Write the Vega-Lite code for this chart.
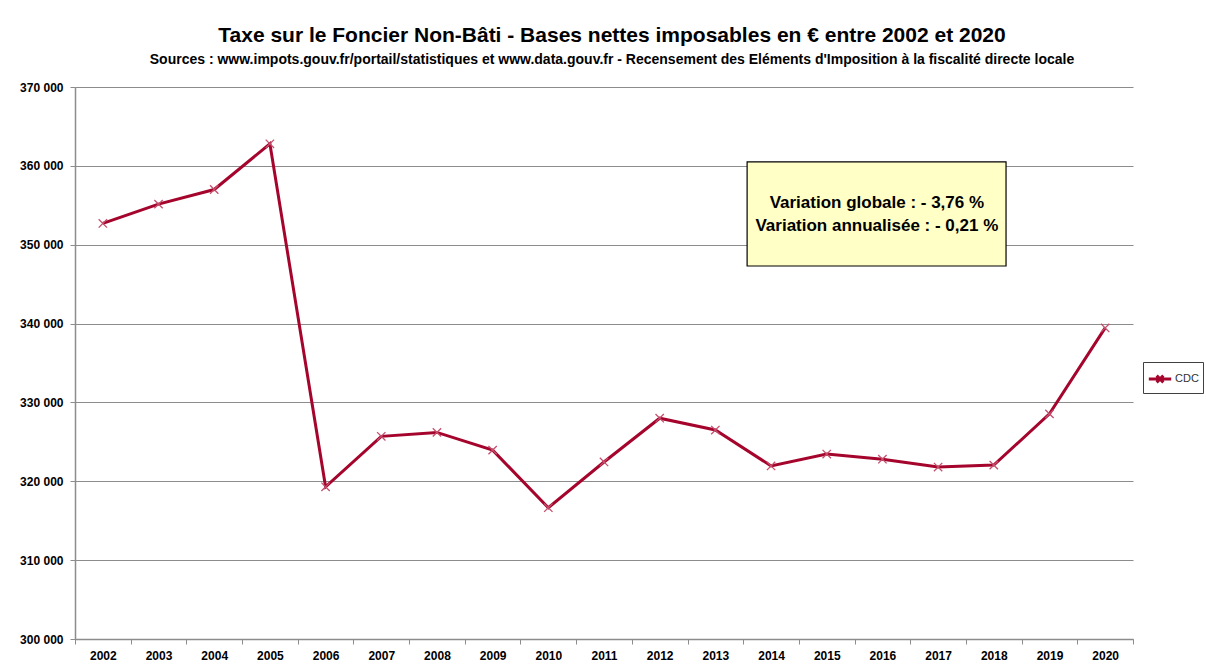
{
  "$schema": "https://vega.github.io/schema/vega-lite/v6.json",
  "width": 1058,
  "height": 552,
  "autosize": {"type": "none"},
  "padding": {"left": 75, "top": 87, "right": 73, "bottom": 31},
  "background": "white",
  "title": {
    "text": "Taxe sur le Foncier Non-Bâti - Bases nettes imposables en € entre 2002 et 2020",
    "subtitle": "Sources : www.impots.gouv.fr/portail/statistiques et www.data.gouv.fr - Recensement des Eléments d'Imposition à la fiscalité directe locale",
    "anchor": "middle",
    "dx": 8,
    "offset": 14,
    "font": "Liberation Sans",
    "fontSize": 21,
    "fontWeight": "bold",
    "color": "black",
    "subtitleFont": "Liberation Sans",
    "subtitleFontSize": 14,
    "subtitleFontWeight": "bold",
    "subtitleColor": "black",
    "subtitlePadding": 7
  },
  "config": {
    "view": {"stroke": null},
    "font": "Liberation Sans"
  },
  "layer": [
    {
      "data": {
        "values": [
          {"annee": "2002", "base": 352700, "serie": "CDC"},
          {"annee": "2003", "base": 355150, "serie": "CDC"},
          {"annee": "2004", "base": 357000, "serie": "CDC"},
          {"annee": "2005", "base": 362800, "serie": "CDC"},
          {"annee": "2006", "base": 319300, "serie": "CDC"},
          {"annee": "2007", "base": 325700, "serie": "CDC"},
          {"annee": "2008", "base": 326200, "serie": "CDC"},
          {"annee": "2009", "base": 323950, "serie": "CDC"},
          {"annee": "2010", "base": 316650, "serie": "CDC"},
          {"annee": "2011", "base": 322450, "serie": "CDC"},
          {"annee": "2012", "base": 328000, "serie": "CDC"},
          {"annee": "2013", "base": 326500, "serie": "CDC"},
          {"annee": "2014", "base": 321950, "serie": "CDC"},
          {"annee": "2015", "base": 323450, "serie": "CDC"},
          {"annee": "2016", "base": 322800, "serie": "CDC"},
          {"annee": "2017", "base": 321800, "serie": "CDC"},
          {"annee": "2018", "base": 322050, "serie": "CDC"},
          {"annee": "2019", "base": 328550, "serie": "CDC"},
          {"annee": "2020", "base": 339450, "serie": "CDC"}
        ]
      },
      "encoding": {
        "x": {
          "field": "annee",
          "type": "ordinal",
          "scale": {"type": "band", "paddingInner": 0, "paddingOuter": 0},
          "axis": {
            "title": null,
            "labelAngle": 0,
            "labelFont": "Liberation Sans",
            "labelFontSize": 12,
            "labelFontWeight": "bold",
            "labelColor": "black",
            "labelPadding": 6,
            "tickBand": "extent",
            "tickSize": 5,
            "tickColor": "#8c8c8c",
            "domainColor": "#8c8c8c",
            "domainWidth": 1.5
          }
        },
        "y": {
          "field": "base",
          "type": "quantitative",
          "scale": {"domain": [300000, 370000], "nice": false, "zero": false},
          "axis": {
            "title": null,
            "values": [300000, 310000, 320000, 330000, 340000, 350000, 360000, 370000],
            "labelExpr": "replace(format(datum.value, ','), ',', ' ')",
            "labelFont": "Liberation Sans",
            "labelFontSize": 12,
            "labelFontWeight": "bold",
            "labelColor": "black",
            "labelPadding": 7,
            "tickSize": 5,
            "tickColor": "#8c8c8c",
            "domainColor": "#8c8c8c",
            "domainWidth": 1.5,
            "gridColor": "#8c8c8c",
            "gridWidth": 1.2
          }
        }
      },
      "layer": [
        {
          "mark": {"type": "line", "strokeWidth": 3},
          "encoding": {
            "color": {
              "field": "serie",
              "type": "nominal",
              "scale": {"range": ["#A5052C"]},
              "legend": {
                "title": null,
                "orient": "none",
                "legendX": 1068,
                "legendY": 275,
                "strokeColor": "#404040",
                "padding": 4,
                "symbolType": "M-1,0H1M-0.3,-0.3L0.3,0.3M-0.3,0.3L0.3,-0.3",
                "symbolSize": 500,
                "symbolStrokeWidth": 3,
                "labelOffset": 2,
                "labelFont": "Liberation Sans",
                "labelFontSize": 11,
                "labelColor": "#333333"
              }
            }
          }
        },
        {
          "mark": {
            "type": "point",
            "shape": "M-1,-1L1,1M-1,1L1,-1",
            "filled": false,
            "size": 70,
            "strokeWidth": 1.3,
            "color": "#C4506E",
            "opacity": 1
          }
        }
      ]
    },
    {
      "data": {"values": [{"x1": 2013.57, "x2": 2018.22, "y1": 360500, "y2": 347300}]},
      "mark": {"type": "rect", "fill": "#FFFFC6", "stroke": "black", "strokeWidth": 1.2},
      "encoding": {
        "x": {"field": "x1", "type": "quantitative", "scale": {"domain": [2001.5, 2020.5], "nice": false, "zero": false}, "axis": null},
        "x2": {"field": "x2"},
        "y": {"field": "y1", "type": "quantitative"},
        "y2": {"field": "y2"}
      }
    },
    {
      "data": {
        "values": [
          {"x": 2015.9, "y": 355250, "txt": "Variation globale : - 3,76 %"},
          {"x": 2015.9, "y": 352350, "txt": "Variation annualisée : - 0,21 %"}
        ]
      },
      "mark": {"type": "text", "font": "Liberation Sans", "fontSize": 17, "fontWeight": "bold", "color": "black", "align": "center", "baseline": "middle"},
      "encoding": {
        "x": {"field": "x", "type": "quantitative", "scale": {"domain": [2001.5, 2020.5], "nice": false, "zero": false}, "axis": null},
        "y": {"field": "y", "type": "quantitative"},
        "text": {"field": "txt"}
      }
    }
  ],
  "resolve": {"scale": {"x": "independent"}}
}
